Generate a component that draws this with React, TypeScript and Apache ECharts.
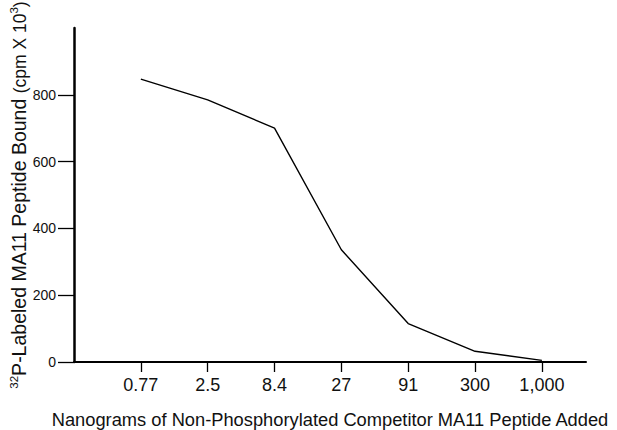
import React, { useEffect, useRef } from "react";
import * as echarts from "echarts";

const doseLabels = ["0.77", "2.5", "8.4", "27", "91", "300", "1,000"];
const boundValues = [847, 785, 700, 336, 115, 32, 5];
const yTickValues = [0, 200, 400, 600, 800];

const FONT = "'Liberation Sans', Arial, sans-serif";

export default function App() {
  const ref = useRef<HTMLDivElement>(null);
  useEffect(() => {
    if (!ref.current) return;
    const chart = echarts.init(ref.current, undefined, { renderer: "svg" });
    const positions = doseLabels.map((_, i) => i + 1);
    chart.setOption({
      animation: false,
      backgroundColor: "#fff",
      textStyle: { fontFamily: FONT, color: "#000" },
      grid: { left: 74, top: 28, right: 31, bottom: 68, containLabel: false, outerBoundsMode: "none" },
      xAxis: {
        type: "value",
        min: 0,
        max: 7.66,
        interval: 1,
        splitLine: { show: false },
        axisLine: { show: true, lineStyle: { color: "#000", width: 2 } },
        axisTick: { show: true, length: 10, customValues: positions, lineStyle: { color: "#000", width: 1.3 } },
        axisLabel: {
          customValues: positions,
          margin: 14,
          fontSize: 18,
          color: "#111",
          fontFamily: FONT,
          formatter: (v: number) => doseLabels[Math.round(v) - 1] ?? "",
        },
        name: "Nanograms of Non-Phosphorylated Competitor MA11 Peptide Added",
        nameLocation: "middle",
        nameGap: 48,
        nameMoveOverlap: false,
        nameTextStyle: { fontSize: 18.3, color: "#111", fontFamily: FONT },
      },
      yAxis: {
        type: "value",
        min: 0,
        max: 1000,
        interval: 200,
        splitLine: { show: false },
        axisLine: { show: true, lineStyle: { color: "#000", width: 2.5 } },
        axisTick: { show: true, length: 16, customValues: yTickValues, lineStyle: { color: "#000", width: 1.3 } },
        axisLabel: {
          customValues: yTickValues,
          margin: 18,
          fontSize: 14,
          color: "#111",
          fontFamily: FONT,
        },
        name: "{sup|32}{n|P-Labeled MA11 Peptide Bound }{s|(cpm X 10}{sup|3}{s|)}",
        nameLocation: "middle",
        nameGap: 45,
        nameRotate: 90,
        nameMoveOverlap: false,
        nameTextStyle: {
          fontFamily: FONT,
          color: "#111",
          rich: {
            n: { fontSize: 19.5, fontFamily: FONT, color: "#111", lineHeight: 21, verticalAlign: "bottom" },
            s: { fontSize: 17.5, fontFamily: FONT, color: "#111", lineHeight: 21, verticalAlign: "bottom" },
            sup: { fontSize: 11.5, fontFamily: FONT, color: "#111", lineHeight: 21, verticalAlign: "top" },
          },
        },
      },
      series: [
        {
          type: "line",
          data: boundValues.map((v, i) => [positions[i], v]),
          showSymbol: false,
          symbol: "none",
          lineStyle: { color: "#000", width: 1.4 },
        },
      ],
    });
    return () => chart.dispose();
  }, []);
  return (
    <div
      ref={ref}
      style={{ position: "fixed", left: 0, top: 0, width: 617, height: 430, overflow: "hidden" }}
    />
  );
}
